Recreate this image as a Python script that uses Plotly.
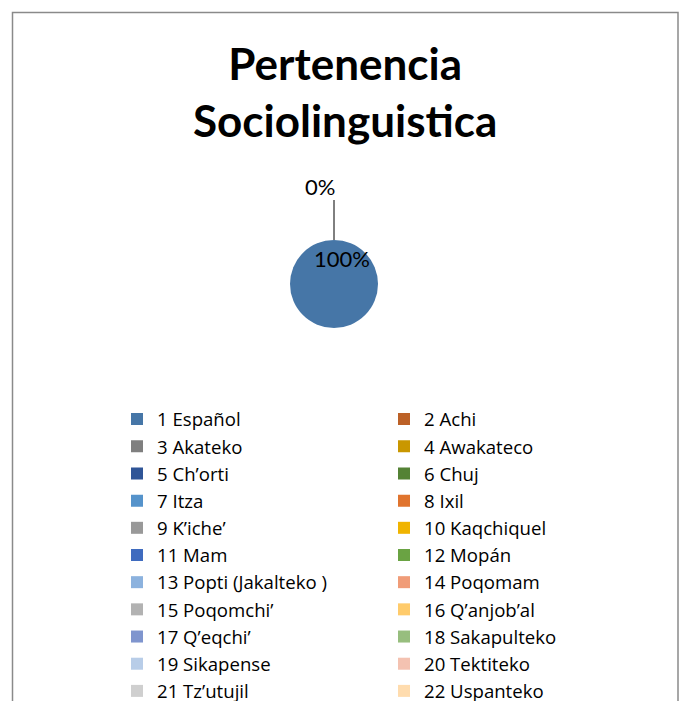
import plotly.graph_objects as go

W, H = 680, 701

labels = ["1 Español", "2 Achi", "3 Akateko", "4 Awakateco", "5 Ch’orti", "6 Chuj",
          "7 Itza", "8 Ixil", "9 K’iche’", "10 Kaqchiquel", "11 Mam", "12 Mopán",
          "13 Popti (Jakalteko )", "14 Poqomam", "15 Poqomchi’", "16 Q’anjob’al",
          "17 Q’eqchi’", "18 Sakapulteko", "19 Sikapense", "20 Tektiteko",
          "21 Tz’utujil", "22 Uspanteko"]
values = [1, 0, 0, 0, 0, 0, 0, 0, 0, 0, 0, 0, 0, 0, 0, 0, 0, 0, 0, 0, 0, 0]
colors = ["#4676A7", "#BC6127", "#7F7F7F", "#C99700", "#2F5597", "#548235",
          "#5593CB", "#E0742E", "#999999", "#F0B400", "#3F6BBF", "#6AA343",
          "#8CB2DE", "#F09C78", "#B2B2B2", "#FFCB6B", "#7F95CE", "#97BE7E",
          "#B8CDE8", "#F4C2B1", "#CFCFCF", "#FFDCAE"]
title_text = "Pertenencia<br>Sociolinguistica"

total = sum(values)
pct = [round(100 * v / total) for v in values]


def px(x):
    return x / W


def py(y):
    return 1 - y / H


fig = go.Figure(go.Pie(
    labels=labels, values=values, sort=False, direction="clockwise",
    marker=dict(colors=colors, line=dict(width=0)),
    textinfo="none", hoverinfo="label+percent",
    domain=dict(x=[px(290), px(378)], y=[py(328), py(240)]),
))

fig.update_layout(
    width=W, height=H,
    margin=dict(l=0, r=0, t=0, b=0, autoexpand=False),
    paper_bgcolor="white", plot_bgcolor="white",
    font=dict(family="Lato", color="#000000"),
    showlegend=True,
    legend=dict(orientation="h", x=px(117), xanchor="left", y=py(400.5), yanchor="top",
                entrywidth=222, entrywidthmode="pixels",
                font=dict(family="Open Sans", size=18.6, color="#000000"),
                bgcolor="rgba(0,0,0,0)", traceorder="normal"),
    shapes=[
        dict(type="rect", xref="paper", yref="paper", x0=px(12.5), x1=px(678), y0=py(760), y1=py(12.5),
             line=dict(color="#8a8a8a", width=1.5), fillcolor="rgba(0,0,0,0)", layer="below"),
        dict(type="line", xref="paper", yref="paper", x0=px(334), x1=px(334), y0=py(240), y1=py(200),
             line=dict(color="#000000", width=1)),
    ],
    annotations=[
        dict(text="<b>" + title_text + "</b>", xref="paper", yref="paper", x=px(345), y=py(91),
             xanchor="center", yanchor="middle", showarrow=False,
             font=dict(family="Lato", size=44, color="#000000")),
        dict(text=f"{pct[1]}%", xref="paper", yref="paper", x=px(320), y=py(186),
             xanchor="center", yanchor="middle",
             showarrow=False, font=dict(family="Lato", size=22, color="#000000")),
        dict(text=f"{pct[0]}%", xref="paper", yref="paper", x=px(342), y=py(258),
             xanchor="center", yanchor="middle",
             showarrow=False, font=dict(family="Lato", size=22, color="#000000")),
    ],
)

# remove the page's default body margin so the 680x701 figure fills the window exactly
fig.write_html(
    "out.html",
    config={"displayModeBar": False},
    post_script="document.body.style.margin='0';document.documentElement.style.overflow='hidden';",
)
